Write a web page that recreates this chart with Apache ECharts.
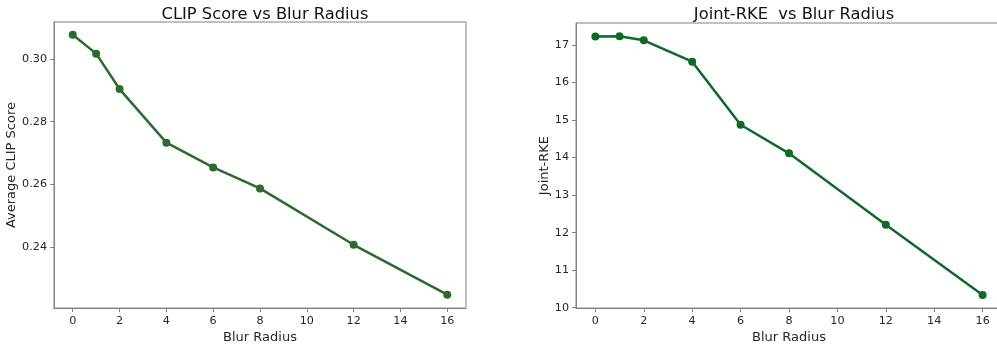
<!DOCTYPE html>
<html>
<head>
<meta charset="utf-8">
<script src="https://cdn.jsdelivr.net/npm/echarts@6/dist/echarts.min.js"></script>
<style>
html,body{margin:0;padding:0;background:#fff;overflow:hidden;width:997px;height:349px;}
#main{width:1010px;height:349px;}
</style>
</head>
<body>
<div id="main"></div>
<script>
const blurRadius = [0, 1, 2, 4, 6, 8, 12, 16];
const clipScore = [0.3077, 0.3017, 0.2904, 0.2733, 0.2654, 0.2587, 0.2407, 0.2248];
const jointRKE = [17.22, 17.23, 17.12, 16.55, 14.87, 14.11, 12.21, 10.34];
const xTicks = [0, 2, 4, 6, 8, 10, 12, 14, 16];
const clipTicks = [0.24, 0.26, 0.28, 0.30];
const rkeTicks = [10, 11, 12, 13, 14, 15, 16, 17];

const FONT = 'DejaVu Sans';
const axisGray = '#808080';
const textCol = '#262626';

function xAxisCfg(gridIndex, gap) {
  return {
    type: 'value', gridIndex, min: -0.8, max: 16.8,
    name: 'Blur Radius', nameLocation: 'middle', nameGap: gap,
    nameTextStyle: {fontFamily: FONT, fontSize: 13, color: textCol},
    axisLine: {show: true, onZero: false, lineStyle: {color: axisGray, width: 1}},
    axisTick: {show: true, length: 4, customValues: xTicks, lineStyle: {color: axisGray}},
    axisLabel: {customValues: xTicks, fontFamily: FONT, fontSize: 11.2, color: textCol, margin: 7},
    splitLine: {show: false}
  };
}
function yAxisCfg(gridIndex, min, max, ticks, name, gap, fmt) {
  return {
    type: 'value', gridIndex, min, max,
    name, nameLocation: 'middle', nameGap: gap, nameRotate: 90,
    nameTextStyle: {fontFamily: FONT, fontSize: 13, color: textCol},
    axisLine: {show: true, onZero: false, lineStyle: {color: axisGray, width: 1}},
    axisTick: {show: true, length: 4, customValues: ticks, lineStyle: {color: axisGray}},
    axisLabel: {customValues: ticks, fontFamily: FONT, fontSize: 11.2, color: textCol, margin: 7, formatter: fmt},
    splitLine: {show: false}
  };
}

const chart = echarts.init(document.getElementById('main'), null, {renderer: 'canvas'});
chart.setOption({
  animation: false,
  backgroundColor: '#ffffff',
  title: [
    {text: 'CLIP Score vs Blur Radius', left: 260, textAlign: 'center', top: 2,
     textStyle: {fontFamily: FONT, fontSize: 16.3, fontWeight: 'normal', color: '#111'}},
    {text: 'Joint-RKE  vs Blur Radius', left: 789, textAlign: 'center', top: 2,
     textStyle: {fontFamily: FONT, fontSize: 16.3, fontWeight: 'normal', color: '#111'}}
  ],
  grid: [
    {left: 54, top: 22, width: 412, height: 289, show: true, borderColor: axisGray, borderWidth: 1, backgroundColor: 'transparent'},
    {left: 576, top: 23, width: 426, height: 291, show: true, borderColor: axisGray, borderWidth: 1, backgroundColor: 'transparent'}
  ],
  xAxis: [xAxisCfg(0, 19), xAxisCfg(1, 21)],
  yAxis: [
    yAxisCfg(0, 0.2205, 0.3118, clipTicks, 'Average CLIP Score', 33, v => v.toFixed(2)),
    yAxisCfg(1, 9.99, 17.58, rkeTicks, 'Joint-RKE', 24, v => String(v))
  ],
  series: [
    {type: 'line', xAxisIndex: 0, yAxisIndex: 0,
     data: blurRadius.map((x, i) => [x, clipScore[i]]),
     symbol: 'circle', symbolSize: 8, showAllSymbol: true,
     lineStyle: {color: '#2d6a2f', width: 2.5}, itemStyle: {color: '#2d6a2f'}},
    {type: 'line', xAxisIndex: 1, yAxisIndex: 1,
     data: blurRadius.map((x, i) => [x, jointRKE[i]]),
     symbol: 'circle', symbolSize: 8, showAllSymbol: true,
     lineStyle: {color: '#0f6a2a', width: 2.5}, itemStyle: {color: '#0f6a2a'}}
  ]
});
</script>
</body>
</html>
